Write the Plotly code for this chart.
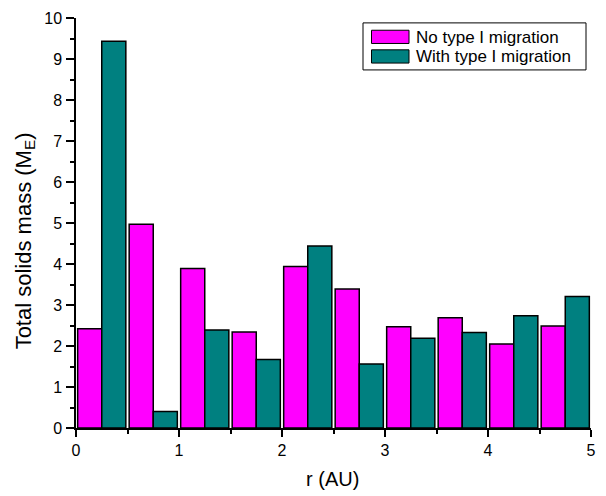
import plotly.graph_objects as go

bin_centers = [0.25, 0.75, 1.25, 1.75, 2.25, 2.75, 3.25, 3.75, 4.25, 4.75]
no_migration = [2.42, 4.97, 3.89, 2.34, 3.94, 3.39, 2.47, 2.69, 2.05, 2.49]
with_migration = [9.43, 0.40, 2.39, 1.67, 4.44, 1.56, 2.19, 2.33, 2.74, 3.21]
series_names = ["No type I migration", "With type I migration"]
colors = ["#FF00FF", "#008080"]
x_ticks = [0, 1, 2, 3, 4, 5]
y_ticks = [0, 1, 2, 3, 4, 5, 6, 7, 8, 9, 10]
x_title = "r (AU)"
y_title = "Total solids mass (M<sub>E</sub>)"

W, H = 606, 496
ML, MR, MT, MB = 76, 15, 10, 67.5
PW, PH = W - ML - MR, H - MT - MB


def px(x):
    return (x - ML) / PW


def py(y):
    return 1 - (y - MT) / PH


fig = go.Figure()
for name, vals, col in zip(series_names, [no_migration, with_migration], colors):
    fig.add_trace(go.Bar(
        x=bin_centers, y=vals, name=name, showlegend=False,
        marker=dict(color=col, line=dict(color="black", width=1.5)),
    ))

font = "Liberation Sans, Arial, sans-serif"

# legend drawn as shapes + text
shapes = [dict(type="rect", xref="paper", yref="paper",
               x0=px(363), x1=px(586), y0=py(15), y1=py(63),
               line=dict(color="black", width=1), fillcolor="white", layer="above")]
annotations = []
for i, (name, col) in enumerate(zip(series_names, colors)):
    top = 22.5 + i * 20
    shapes.append(dict(type="rect", xref="paper", yref="paper",
                       x0=px(371.5), x1=px(409), y0=py(top), y1=py(top + 13.5),
                       line=dict(color="black", width=1), fillcolor=col, layer="above"))
    annotations.append(dict(xref="paper", yref="paper", x=px(414), y=py(top + 7),
                            xanchor="left", yanchor="middle", showarrow=False,
                            text=name, font=dict(size=17, family=font, color="black")))

# axis titles
annotations.append(dict(xref="paper", yref="paper", x=px(25), y=py(238),
                        xanchor="center", yanchor="middle", showarrow=False, textangle=-90,
                        text=y_title, font=dict(size=22, family=font, color="black")))
annotations.append(dict(xref="paper", yref="paper", x=px(332), y=py(481),
                        xanchor="center", yanchor="middle", showarrow=False,
                        text=x_title, font=dict(size=20, family=font, color="black")))

fig.update_layout(
    width=W, height=H,
    margin=dict(l=ML, r=MR, t=MT, b=MB),
    barmode="group", bargap=0.065, bargroupgap=0,
    plot_bgcolor="white", paper_bgcolor="white",
    font=dict(family=font, color="black", size=16),
    showlegend=False,
    shapes=shapes, annotations=annotations,
    xaxis=dict(
        range=[0, 5], tickmode="array", tickvals=x_ticks, ticktext=[str(v) for v in x_ticks],
        showgrid=False, zeroline=False,
        showline=True, linecolor="black", linewidth=1.5,
        ticks="outside", ticklen=7, tickwidth=1.5, tickcolor="black",
        minor=dict(dtick=0.5, ticks="outside", ticklen=4, tickwidth=1.5, tickcolor="black"),
        tickfont=dict(size=16),
    ),
    yaxis=dict(
        range=[0, 10.0001], tickmode="array", tickvals=y_ticks, ticktext=[str(v) for v in y_ticks],
        showgrid=False, zeroline=False,
        showline=True, linecolor="black", linewidth=1.5,
        ticks="outside", ticklen=8, tickwidth=1.5, tickcolor="black",
        minor=dict(dtick=0.5, ticks="outside", ticklen=4, tickwidth=1.5, tickcolor="black"),
        tickfont=dict(size=16), ticklabelstandoff=1, ticklabeloverflow="allow",
    ),
)
fig.write_html("out.html", config={"displayModeBar": False},
               post_script="document.body.style.margin='0px';")
